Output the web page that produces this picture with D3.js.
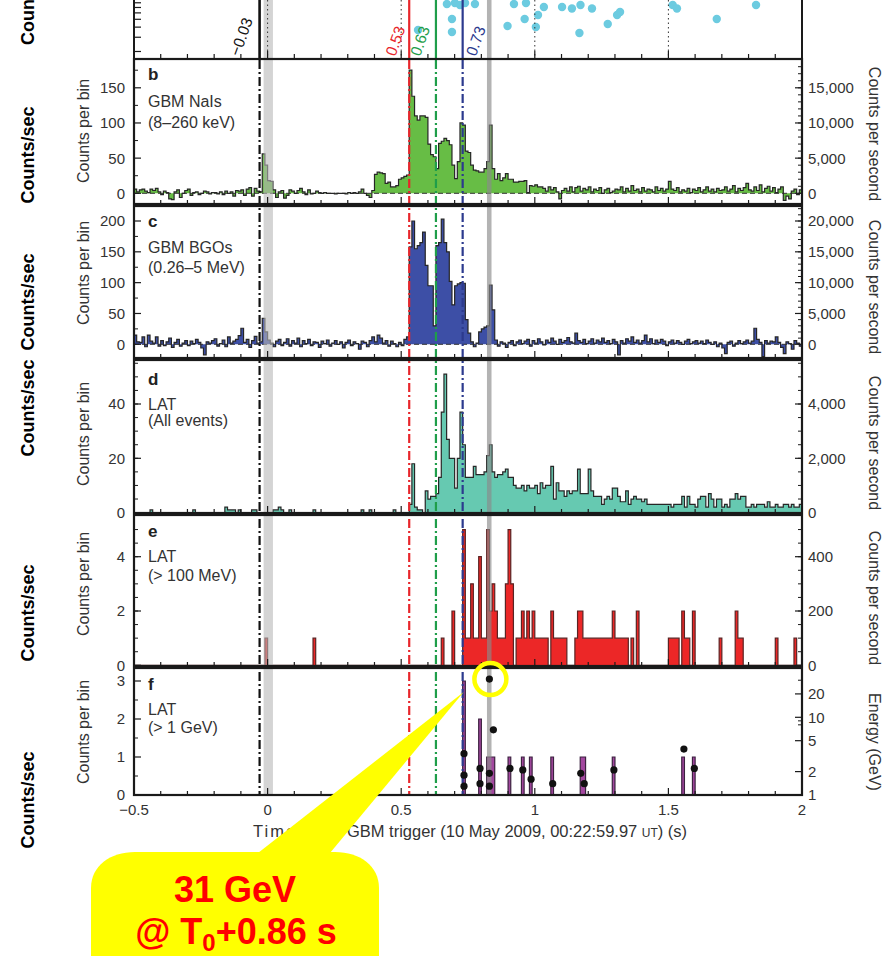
<!DOCTYPE html>
<html><head><meta charset="utf-8">
<script src="https://cdn.jsdelivr.net/npm/d3@7"></script>
<style>
body{margin:0;background:#fff}
svg{display:block}
text{font-family:"Liberation Sans",Arial,Helvetica,sans-serif}
</style></head><body>
<svg id="chart" width="882" height="956"></svg>
<script>
// ---------------- DATA ----------------
const binStart = -0.5, binWidth = 0.01, nBins = 250;   // 10 ms bins
// b: GBM NaIs (8–260 keV), counts per 10-ms bin
const naiCounts = [
 6,2,5,6,3,1,6,4,7,2,
 -2,3,1,-8,-9,2,5,-6,0,4,
 6,-3,1,2,-2,0,3,2,-1,1,
 1,-1,2,-2,3,0,2,-4,4,3,
 5,-3,6,8,-4,7,3,2,56,40,
 18,17,5,-6,2,4,-7,-3,5,3,
 0,4,7,2,-2,5,-1,0,3,1,
 0,1,0,0,0,-1,0,0,0,-1,
 1,0,1,0,2,6,0,-3,-6,4,
 27,30,29,28,14,16,9,9,11,20,
 22,24,26,175,138,110,104,110,110,108,
 70,55,52,35,71,74,78,75,69,40,
 21,45,100,97,60,58,40,33,32,30,
 30,35,45,97,35,20,28,18,22,28,
 20,20,16,16,17,17,18,1,11,10,
 12,9,9,7,3,9,5,8,2,-8,
 4,7,3,9,2,8,10,3,7,5,
 9,2,6,4,8,0,5,7,1,3,
 6,5,9,2,7,3,11,4,6,2,
 8,3,6,5,2,9,4,7,3,6,
 17,6,4,8,2,5,3,7,1,6,
 4,8,2,5,9,3,6,2,7,4,
 5,9,3,6,11,2,7,4,8,14,
 5,3,9,4,12,2,7,10,3,8,
 1,6,9,-10,-4,-8,3,6,-2,5
];
// c: GBM BGOs (0.26–5 MeV)
const bgoCounts = [
 15,4,3,12,-4,15,5,2,12,-3,
 6,-2,4,10,-5,3,8,-3,2,6,
 -2,5,1,8,3,-6,-17,4,2,6,
 9,-3,1,7,-4,12,2,5,8,14,
 26,3,8,-5,6,13,2,4,42,20,
 7,2,-4,5,8,-2,3,9,-3,6,
 2,10,-4,6,1,8,-2,4,3,-5,
 5,1,7,-3,2,6,0,4,-6,3,
 7,-2,4,1,-8,5,3,-4,6,12,
 4,15,10,2,6,-3,5,1,-4,3,
 -2,8,12,158,200,155,160,165,182,128,
 95,95,30,160,165,203,165,150,102,64,
 95,98,100,99,40,18,4,-4,2,20,
 25,28,30,96,56,7,-3,4,2,-5,
 3,6,-2,4,7,1,5,8,-3,6,
 2,9,4,-1,7,3,10,5,0,8,
 3,6,11,4,2,18,6,3,8,1,
 5,9,2,7,4,10,3,6,1,8,
 4,-17,6,2,9,5,12,3,7,2,
 6,15,4,9,1,7,3,8,5,-2,
 4,7,2,6,3,0,5,8,1,4,
 6,2,5,1,7,3,0,4,-4,2,
 -6,-15,3,5,-3,2,6,1,4,7,
 2,5,26,8,3,-20,6,2,5,4,
 12,3,-5,-15,4,1,-8,6,2,-3
];
// d: LAT (all events)
const latAllCounts = [
 0,0,0,0,0,0,1,0,0,0,
 0,0,0,0,0,0,0,0,0,0,
 0,0,1,0,0,0,0,0,0,0,
 0,0,0,0,2,1,1,1,0,1,
 0,0,0,0,1,1,0,0,0,0,
 0,0,1,1,2,1,0,0,1,0,
 0,0,0,0,0,0,0,1,0,0,
 0,0,0,0,0,0,0,0,0,0,
 0,0,0,0,0,1,0,0,1,0,
 0,0,0,0,0,0,0,1,0,0,
 0,0,0,3,18,2,1,1,0,8,
 5,6,6,7,13,37,51,27,20,20,
 9,20,37,25,13,13,13,17,14,14,
 14,15,21,25,15,13,14,14,15,16,
 13,13,10,9,9,10,8,10,9,9,
 10,7,11,9,10,10,17,5,11,8,
 8,6,8,7,8,8,16,7,7,7,
 16,8,6,6,6,3,5,6,5,9,
 9,6,4,4,8,3,5,6,5,5,
 4,5,3,3,3,3,3,3,3,3,
 3,2,3,3,3,6,2,6,3,3,
 2,5,6,6,2,7,5,2,5,5,
 2,3,2,5,5,7,5,6,6,2,
 2,3,2,3,3,3,2,4,2,2,
 3,2,2,3,3,2,3,2,2,3
];
// e: LAT (> 100 MeV), non-empty bins (bin start, s) and counts
const lat100Times = [-0.01,0.17,0.65,0.69,0.73,0.74,0.75,0.76,0.77,0.78,0.79,0.80,0.81,0.82,0.83,0.84,0.85,0.86,0.87,0.88,0.89,0.90,0.91,
 0.93,0.94,0.95,0.96,0.97,0.98,0.99,1.00,1.01,1.02,1.03,1.04,1.06,1.07,1.08,1.09,1.10,1.11,
 1.15,1.16,1.17,1.18,1.19,1.20,1.21,1.22,1.23,1.24,1.25,1.26,1.27,1.28,1.29,1.30,1.31,1.32,1.33,1.34,1.36,1.38,
 1.50,1.51,1.52,1.53,1.55,1.56,1.57,1.59,1.69,1.75,1.76,1.77,1.90,1.97];
const lat100Counts = [1,1,1,2,5,1,1,3,1,1,4,1,1,5,2,3,2,1,1,1,3,5,3,
 1,1,2,1,2,1,2,1,1,1,1,1,2,1,1,1,1,1,
 1,2,2,1,1,1,1,1,1,1,1,1,1,1,2,1,1,1,1,1,1,2,
 1,1,1,1,2,1,1,2,1,2,1,1,1,1];
// f: LAT (> 1 GeV) counts per bin
const lat1GeVTimes = [0.73,0.79,0.82,0.83,0.84,0.90,0.95,0.98,1.06,1.17,1.18,1.29,1.55,1.59];
const lat1GeVCounts = [3,2,1,1,1,1,1,1,1,1,1,1,1,1];
// f: individual photon energies (GeV)
const photonTimes    = [0.735,0.735,0.735,0.795,0.795,0.830,0.830,0.830,0.845,0.907,0.955,0.986,1.067,1.172,1.185,1.296,1.558,1.597];
const photonEnergies = [3.4,1.8,1.3,2.2,1.4,31,1.9,1.3,6.9,2.2,2.1,1.6,1.4,1.9,1.4,2.1,3.9,2.2];
// a: (top, cropped) LAT events
const eventTimes    = [0.563,0.671,0.690,0.690,0.701,0.720,0.739,0.776,0.898,0.922,0.962,0.967,1.004,1.012,1.034,1.102,1.139,1.167,1.171,1.214,1.273,1.308,1.319,1.516,1.532,1.681,1.828];
const eventEnergies = [369,773,504,348,795,751,795,773,413,773,504,795,402,565,710,710,680,339,751,680,438,565,615,751,680,504,751];
// reference times
const markerTimes  = [-0.03, 0.53, 0.63, 0.73];
const markerLabels = ["\u22120.03","0.53","0.63","0.73"];
const markerColors = ["#111111","#e8262b","#1f9e4a","#2c3a8e"];
const xTickValues = [-0.5,0,0.5,1,1.5,2];
const xTickLabels = ["\u22120.5","0","0.5","1","1.5","2"];

// ---------------- LAYOUT ----------------
const svg = d3.select("#chart");
const x = d3.scaleLinear().domain([-0.5, 2]).range([134, 802]);
const X0 = 134, X1 = 802;
const P = {
  b:{top:59,bottom:204,y:d3.scaleLinear().domain([0,150]).range([193.3,87.8]),
     lMaj:[0,50,100,150],lMin:d3.range(25,200,50),rMaj:[0,5000,10000,15000],rMin:d3.range(1000,19000,1000)},
  c:{top:206,bottom:358,y:d3.scaleLinear().domain([0,200]).range([344.3,221]),
     lMaj:[0,50,100,150,200],lMin:d3.range(25,225,50),rMaj:[0,5000,10000,15000,20000],rMin:d3.range(1000,23000,1000)},
  d:{top:360,bottom:513,y:d3.scaleLinear().domain([0,40]).range([512.6,404]),
     lMaj:[0,20,40],lMin:d3.range(5,60,5),rMaj:[0,2000,4000],rMin:d3.range(500,6000,500)},
  e:{top:515,bottom:666,y:d3.scaleLinear().domain([0,4]).range([665.3,556.7]),
     lMaj:[0,2,4],lMin:d3.range(0.5,5.6,0.5),rMaj:[0,200,400],rMin:d3.range(50,560,50)},
  f:{top:668,bottom:795,y:d3.scaleLinear().domain([0,3]).range([795,681]),
     lMaj:[0,1,2,3],lMin:[0.5,1.5,2.5]}
};
const eScale = d3.scaleLog().domain([1,10]).range([795,717.3]);
const aScale = d3.scaleLog().domain([161.5,4776]).range([59,-60]);

const defs = svg.append("defs");
Object.entries(P).forEach(([k,p])=>{
  defs.append("clipPath").attr("id","clip-"+k).append("rect")
    .attr("x",X0).attr("y",p.top).attr("width",X1-X0).attr("height",p.bottom-p.top);
});
defs.append("clipPath").attr("id","clip-a").append("rect").attr("x",X0).attr("y",-10).attr("width",X1-X0).attr("height",69);

const FONT = 15;
function txt(g, xx, yy, s, o={}) {
  const t = g.append("text").attr("x",xx).attr("y",yy).text(s)
    .attr("font-size",o.size||FONT).attr("fill",o.fill||"#333");
  if (o.anchor) t.attr("text-anchor",o.anchor);
  if (o.weight) t.attr("font-weight",o.weight);
  if (o.rot!==undefined) t.attr("transform",`rotate(${o.rot},${xx},${yy})`);
  if (o.dy) t.attr("dy",o.dy);
  return t;
}

// sparse (bin start, count) lists -> per-bin array
function dense(times, counts) {
  const arr = new Array(nBins).fill(0);
  times.forEach((t,i)=>{ arr[Math.round((t-binStart)/binWidth)] = counts[i]; });
  return arr;
}

// ------------- histograms -------------
function hist(key, counts, fill, stroke, zeroDash) {
  const p = P[key];
  const data = counts.map((v,i)=>({t:binStart+i*binWidth, v}));
  data.push({t:binStart+counts.length*binWidth, v:counts[counts.length-1]});
  const g = svg.append("g").attr("clip-path",`url(#clip-${key})`);
  g.append("path").datum(data)
    .attr("d", d3.area().curve(d3.curveStepAfter).x(d=>x(d.t)).y0(p.y(0)).y1(d=>p.y(d.v)))
    .attr("fill",fill);
  if (zeroDash) {
    g.append("line").attr("x1",X0).attr("x2",X1).attr("y1",p.y(0)).attr("y2",p.y(0))
      .attr("stroke","#333").attr("stroke-width",1).attr("stroke-dasharray","5,3");
  }
  g.append("path").datum(data)
    .attr("d", d3.line().curve(d3.curveStepAfter).x(d=>x(d.t)).y(d=>p.y(d.v)))
    .attr("fill","none").attr("stroke",stroke).attr("stroke-width",1.2);
}
hist("b", naiCounts, "#67bd45", "#262626", true);
hist("c", bgoCounts, "#3d4fa6", "#262626", true);
hist("d", latAllCounts, "#66c9b1", "#262626", false);
hist("e", dense(lat100Times, lat100Counts), "#ec2727", "#5a2424", false);
hist("f", dense(lat1GeVTimes, lat1GeVCounts), "#a3479f", "#3c2240", false);

// ------------- panel a events -------------
const gA = svg.append("g").attr("clip-path","url(#clip-a)");
gA.selectAll("circle").data(eventTimes.map((t,i)=>({t,e:eventEnergies[i]}))).join("circle")
  .attr("cx",d=>x(d.t)).attr("cy",d=>aScale(d.e)).attr("r",4.2).attr("fill","#6ccbe0");

// ------------- shaded bands -------------
const bandG = svg.append("g");
bandG.append("rect").attr("x",x(-0.015)).attr("width",x(0.02)-x(-0.015)).attr("y",0).attr("height",795)
  .attr("fill","#b8b8b8").attr("opacity",0.6);
bandG.append("rect").attr("x",x(0.821)).attr("width",x(0.838)-x(0.821)).attr("y",0).attr("height",795)
  .attr("fill","#8a8a8a").attr("opacity",0.65);

// dotted grid in panel a
[0,0.5,1,1.5].forEach(t=>{
  svg.append("line").attr("x1",x(t)).attr("x2",x(t)).attr("y1",0).attr("y2",58)
    .attr("stroke","#333").attr("stroke-width",1).attr("stroke-dasharray","1.5,3");
});

// ------------- reference lines -------------
markerTimes.forEach((t,i)=>{
  svg.append("line").attr("x1",x(t)).attr("x2",x(t)).attr("y1",0).attr("y2",58)
    .attr("stroke",markerColors[i]).attr("stroke-width",i===0?2.6:2.2);
  svg.append("line").attr("x1",x(t)).attr("x2",x(t)).attr("y1",60).attr("y2",795)
    .attr("stroke",markerColors[i]).attr("stroke-width",2.2).attr("stroke-dasharray","9,3,2,3");
});
const labOff = [-20,-14,-16,13];
markerLabels.forEach((s,i)=>{
  txt(svg, x(markerTimes[i])+labOff[i], 57, s, {fill:markerColors[i], size:15.5, rot:-70});
});

// photon energies (panel f)
svg.append("g").selectAll("circle").data(photonTimes.map((t,i)=>({t,e:photonEnergies[i]}))).join("circle")
  .attr("cx",d=>x(d.t)).attr("cy",d=>eScale(d.e)).attr("r",3.6).attr("fill","#111");

// ------------- frames & ticks -------------
const axG = svg.append("g").attr("stroke","#1a1a1a");
axG.append("line").attr("x1",X0).attr("x2",X0).attr("y1",0).attr("y2",59).attr("stroke-width",2);
axG.append("line").attr("x1",X1).attr("x2",X1).attr("y1",0).attr("y2",59).attr("stroke-width",2);
[200,300,400,500,600,700,800].forEach(v=>{
  axG.append("line").attr("x1",X0).attr("x2",X0+7).attr("y1",aScale(v)).attr("y2",aScale(v)).attr("stroke-width",1.2);
});
d3.range(-5,21).forEach(k=>{
  const xx = x(k/10), L = (k%5===0)?7:4;
  axG.append("line").attr("x1",xx).attr("x2",xx).attr("y1",58).attr("y2",58-L).attr("stroke-width",1.2);
});

Object.entries(P).forEach(([k,p])=>{
  axG.append("rect").attr("x",X0).attr("y",p.top).attr("width",X1-X0).attr("height",p.bottom-p.top)
    .attr("fill","none").attr("stroke-width",2.2);
  d3.range(-5,21).forEach(j=>{
    const xx = x(j/10), L = (j%5===0)?7:4;
    axG.append("line").attr("x1",xx).attr("x2",xx).attr("y1",p.bottom).attr("y2",p.bottom-L).attr("stroke-width",1.2);
  });
  p.lMaj.forEach(v=>{
    axG.append("line").attr("x1",X0).attr("x2",X0+7).attr("y1",p.y(v)).attr("y2",p.y(v)).attr("stroke-width",1.2);
    txt(svg, X0-9, p.y(v), String(v), {anchor:"end", dy:"0.36em"});
  });
  p.lMin.forEach(v=>{
    const yy=p.y(v); if (yy<p.top+1) return;
    axG.append("line").attr("x1",X0).attr("x2",X0+4).attr("y1",yy).attr("y2",yy).attr("stroke-width",1);
  });
  if (p.rMaj) {
    const yr = v=>p.y(v/100);
    p.rMaj.forEach(v=>{
      axG.append("line").attr("x1",X1).attr("x2",X1-7).attr("y1",yr(v)).attr("y2",yr(v)).attr("stroke-width",1.2);
      txt(svg, X1+6, yr(v), d3.format(",")(v), {dy:"0.36em"});
    });
    p.rMin.forEach(v=>{
      const yy=yr(v); if (yy<p.top+1) return;
      axG.append("line").attr("x1",X1).attr("x2",X1-4).attr("y1",yy).attr("y2",yy).attr("stroke-width",1);
    });
  }
});
[1,2,5,10,20].forEach(v=>{
  axG.append("line").attr("x1",X1).attr("x2",X1-7).attr("y1",eScale(v)).attr("y2",eScale(v)).attr("stroke-width",1.2);
  txt(svg, X1+6, eScale(v), String(v), {dy:"0.36em"});
});
[8,9,30].forEach(v=>{
  axG.append("line").attr("x1",X1).attr("x2",X1-4).attr("y1",eScale(v)).attr("y2",eScale(v)).attr("stroke-width",1);
});
xTickValues.forEach((v,i)=> txt(svg, x(v), 815, xTickLabels[i], {anchor:"middle"}));

// x title (first words partly hidden by the callout pointer)
svg.append("text").attr("x",253).attr("y",837).attr("font-size",16.5).attr("fill","#333")
  .attr("textLength",90).attr("lengthAdjust","spacing").text("Time from");
const xt = svg.append("text").attr("x",347).attr("y",837)
  .attr("font-size",16.5).attr("fill","#333").attr("textLength",340).attr("lengthAdjust","spacing");
xt.append("tspan").text("GBM trigger (10 May 2009, 00:22:59.97 ");
xt.append("tspan").attr("font-size",12).text("UT");
xt.append("tspan").text(") (s)");

// panel captions
const caps = [
  ["b","GBM NaIs","(8\u2013260 keV)",80,106.5,128],
  ["c","GBM BGOs","(0.26\u20135 MeV)",227,253,273],
  ["d","LAT","(All events)",385,410,426],
  ["e","LAT","(> 100 MeV)",537,561.5,581],
  ["f","LAT","(> 1 GeV)",690,715,733]
];
caps.forEach(c=>{
  txt(svg,148,c[3],c[0],{size:17,weight:"bold",fill:"#222"});
  txt(svg,148,c[4],c[1],{size:16});
  txt(svg,148,c[5],c[2],{size:16});
});

[["b",131],["c",273],["d",434],["e",584],["f",732]].forEach(([k,yy])=>{
  txt(svg,89,yy,"Counts per bin",{size:16,anchor:"middle",rot:-90});
});
[134,287,443,598].forEach(yy=> txt(svg,869,yy,"Counts per second",{size:16,anchor:"middle",rot:90}));
txt(svg,869,742,"Energy (GeV)",{size:16,anchor:"middle",rot:90});

// outer slide labels
txt(svg,34,45,"Counts/sec",{size:18,weight:"bold",fill:"#000",rot:-90});
[155,302,408,613,800].forEach(yy=> txt(svg,34,yy,"Counts/sec",{size:18,weight:"bold",fill:"#000",anchor:"middle",rot:-90}));

// ------------- callout -------------
const co = svg.append("g");
co.append("path").attr("d","M91,960 V888 C91,866 110,852 135,852 H335 C360,852 379,866 379,888 V960 Z").attr("fill","#ffff00");
co.append("polygon").attr("points",`258,853 330,853 ${x(0.734)},692`).attr("fill","#ffff00");
co.append("circle").attr("cx",x(photonTimes[5])+1).attr("cy",eScale(photonEnergies[5])).attr("r",16)
  .attr("fill","none").attr("stroke","#ffff00").attr("stroke-width",4.5);
txt(co,235,902,"31 GeV",{size:36,weight:"bold",fill:"#ff0000",anchor:"middle"});
const t2 = co.append("text").attr("x",236).attr("y",944).attr("text-anchor","middle")
  .attr("font-size",36).attr("font-weight","bold").attr("fill","#ff0000");
t2.append("tspan").text("@ T");
t2.append("tspan").attr("font-size",24).attr("dy",7).text("0");
t2.append("tspan").attr("dy",-7).text("+0.86 s");
</script>
</body></html>
